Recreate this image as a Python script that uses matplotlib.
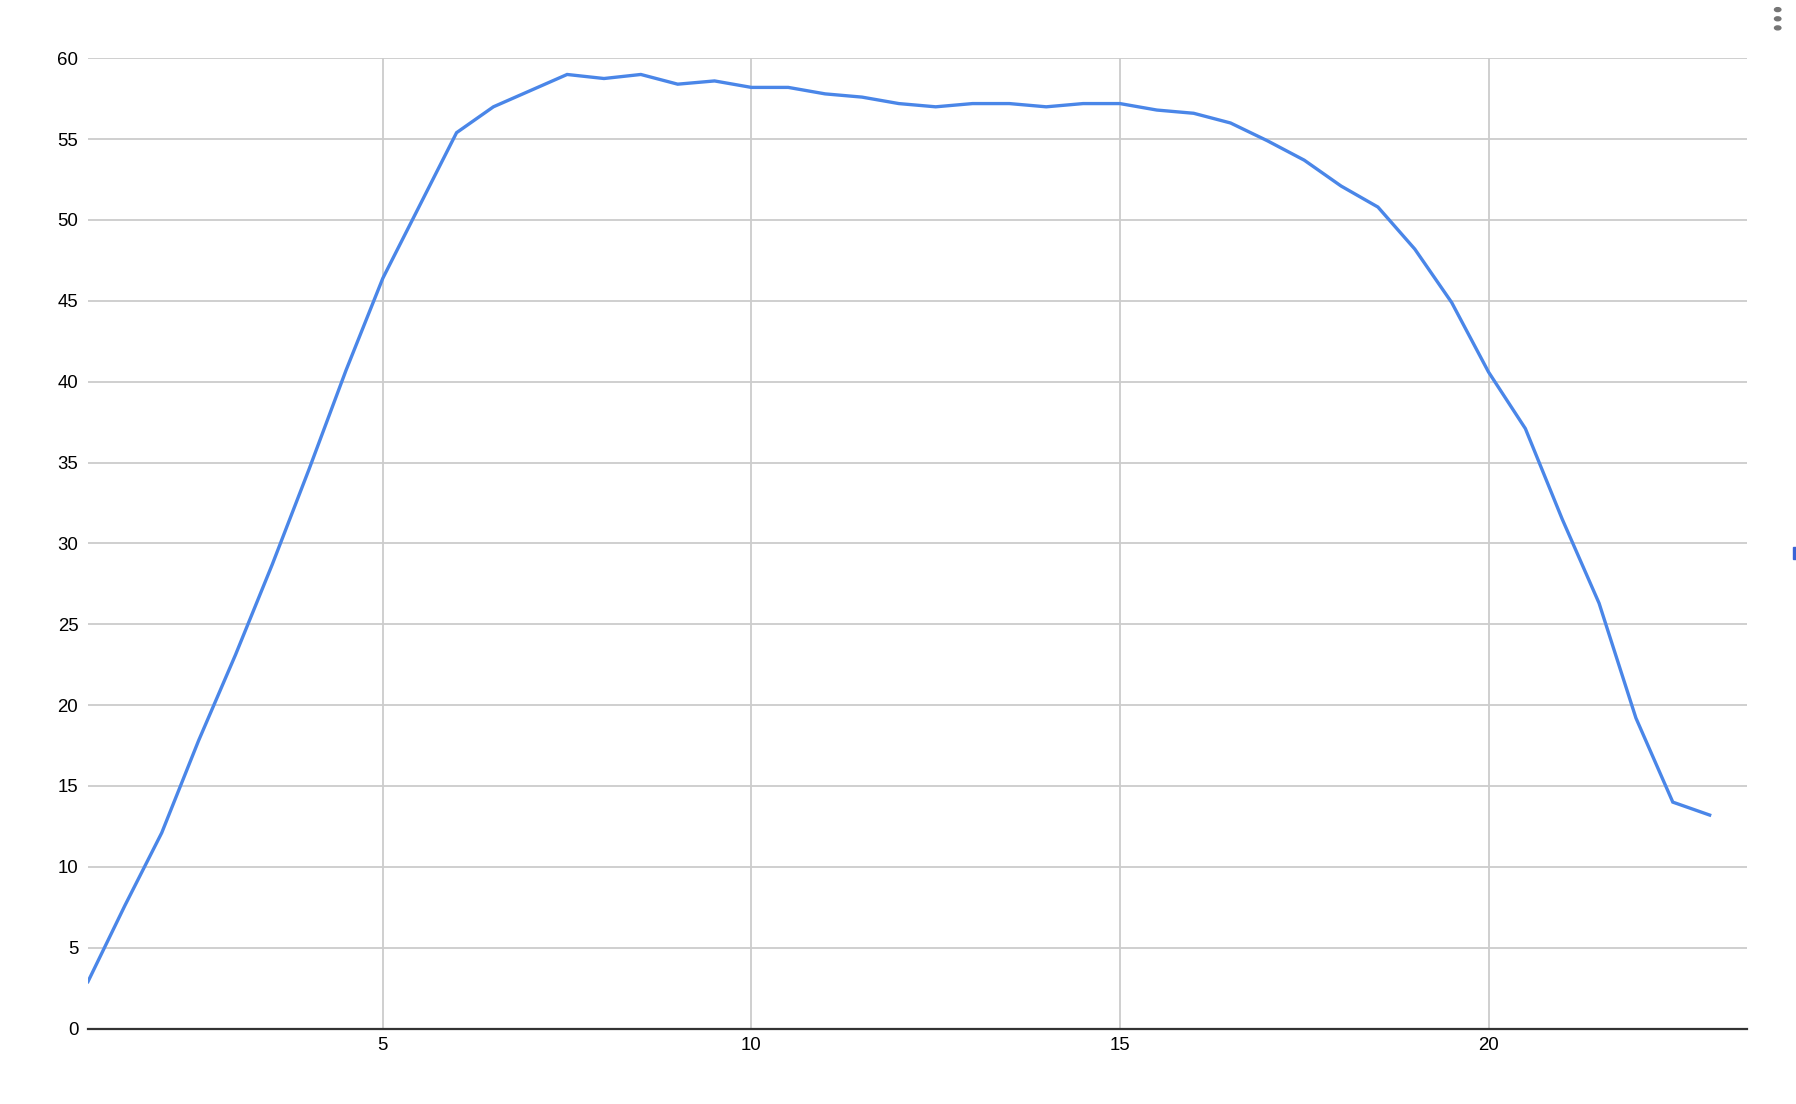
import numpy as np
from matplotlib import pyplot as plt
from matplotlib.patches import Rectangle

# data
x_vals = [1, 1.5, 2, 2.5, 3, 3.5, 4, 4.5, 5, 5.5, 6, 6.5, 7, 7.5, 8, 8.5, 9, 9.5, 10, 10.5,
          11, 11.5, 12, 12.5, 13, 13.5, 14, 14.5, 15, 15.5, 16, 16.5, 17, 17.5, 18, 18.5,
          19, 19.5, 20, 20.5, 21, 21.5, 22, 22.5, 23]
y_vals = [2.9, 7.6, 12.1, 17.8, 23.1, 28.7, 34.6, 40.7, 46.4, 50.9, 55.4, 57.0, 58.0, 59.0,
          58.75, 59.0, 58.4, 58.6, 58.2, 58.2, 57.8, 57.6, 57.2, 57.0, 57.2, 57.2, 57.0, 57.2,
          57.2, 56.8, 56.6, 56.0, 54.9, 53.7, 52.1, 50.8, 48.2, 44.9, 40.6, 37.1, 31.5, 26.3,
          19.2, 14.0, 13.2]
x_ticks = [5, 10, 15, 20]
y_ticks = list(range(0, 65, 5))

plt.rcParams['font.family'] = ['Liberation Sans', 'DejaVu Sans']

W, H = 1796, 1104
fig = plt.figure(figsize=(W / 100, H / 100), dpi=100)
ax = fig.add_axes([88 / W, (H - 1028.5) / H, (1746.5 - 88) / W, (1028.5 - 58.3) / H])

ax.plot(x_vals, y_vals, color="#4a86e8", lw=2.4, solid_joinstyle="miter", zorder=3)

ax.set_xlim(1, 23.5); ax.set_ylim(0, 60)
ax.set_xticks(x_ticks); ax.set_yticks(y_ticks)
ax.grid(True, color="#cccccc", lw=1.3, zorder=0)
ax.set_axisbelow(True)
for s in ["left", "right", "top"]:
    ax.spines[s].set_visible(False)
ax.spines["bottom"].set_color("#333333"); ax.spines["bottom"].set_linewidth(1.6)
ax.tick_params(axis="both", length=0, labelsize=13.4, labelcolor="#000000")
ax.tick_params(axis="y", pad=7)
ax.tick_params(axis="x", pad=6)

# menu dots and small marker at right edge
for yy in [9.6, 18.8, 27.9]:
    fig.patches.append(plt.Circle((1777.7 / W, 1 - yy / H), 3.2 / W, transform=fig.transFigure,
                                  color="#757575", figure=fig))
fig.patches.append(Rectangle((1793 / W, 1 - 559 / H), 3 / W, 12 / H, transform=fig.transFigure,
                             color="#3a63d6", figure=fig))

plt.savefig("out.png", dpi=100)
